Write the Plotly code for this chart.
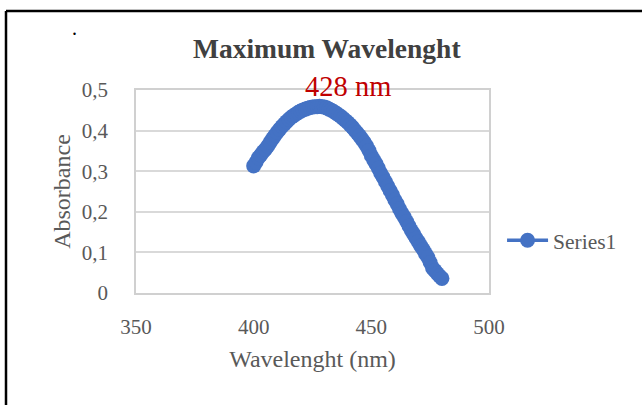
import plotly.graph_objects as go

wavelength = list(range(400, 481))
absorbance = [
    0.313, 0.322, 0.333, 0.340, 0.348, 0.354, 0.362, 0.371, 0.380, 0.388,
    0.396, 0.403, 0.410, 0.416, 0.422, 0.428, 0.433, 0.437, 0.441, 0.445,
    0.448, 0.451, 0.453, 0.455, 0.457, 0.458, 0.459, 0.459, 0.460, 0.459,
    0.458, 0.456, 0.453, 0.450, 0.447, 0.443, 0.439, 0.435, 0.430, 0.425,
    0.420, 0.414, 0.408, 0.401, 0.394, 0.387, 0.379, 0.371, 0.362, 0.351,
    0.338, 0.328, 0.318, 0.307, 0.295, 0.285, 0.274, 0.263, 0.252, 0.241,
    0.229, 0.219, 0.207, 0.196, 0.187, 0.176, 0.165, 0.154, 0.145, 0.135,
    0.126, 0.116, 0.107, 0.097, 0.088, 0.075, 0.062, 0.055, 0.048, 0.042,
    0.036,
]
x_ticks = [350, 400, 450, 500]
y_ticks = [0, 0.1, 0.2, 0.3, 0.4, 0.5]
series_name = "Series1"
peak_label = "428 nm"

FONT = "Liberation Serif"
BLUE = "#4472C4"
GREY = "#595959"

fig = go.Figure()
fig.add_trace(go.Scatter(
    x=wavelength, y=absorbance, name=series_name, mode="lines+markers",
    line=dict(color=BLUE, width=3.5),
    marker=dict(color=BLUE, size=15),
    showlegend=True,
))

fig.update_layout(
    width=642, height=405,
    margin=dict(l=136, r=153, t=90, b=112),
    paper_bgcolor="white", plot_bgcolor="white",
    separators=", ",
    font=dict(family=FONT, color=GREY, size=21),
    title=dict(text="<b>Maximum Wavelenght</b>", x=0.509, xref="container",
               xanchor="center", y=1 - 48 / 405, yref="container", yanchor="middle",
               font=dict(family=FONT, size=27.5, color="#404040")),
    xaxis=dict(range=[350, 500], tickvals=x_ticks, showgrid=False, zeroline=False,
               showline=True, linecolor="#D0D0D0", linewidth=1.5, mirror=True,
               ticks="", ticklabelstandoff=14,
               tickfont=dict(family=FONT, size=21, color=GREY),
               title=dict(text="Wavelenght (nm)", standoff=12,
                          font=dict(family=FONT, size=24, color=GREY))),
    yaxis=dict(range=[0, 0.5], tickvals=y_ticks, showgrid=True, gridcolor="#D9D9D9",
               gridwidth=1.5, zeroline=False, showline=True, linecolor="#D0D0D0",
               linewidth=1.5, mirror=True, ticks="", ticklabelstandoff=22,
               tickfont=dict(family=FONT, size=21, color=GREY),
               title=dict(text="Absorbance", standoff=4,
                          font=dict(family=FONT, size=24, color=GREY))),
    legend=dict(x=1.037, xanchor="left", y=0.26, yanchor="middle", itemwidth=41,
                font=dict(family=FONT, size=21.5, color=GREY), bgcolor="rgba(0,0,0,0)"),
    annotations=[
        dict(text=peak_label, x=(348 - 136) / 353, y=(293 - 87) / 203, xref="paper",
             yref="paper", showarrow=False, xanchor="center", yanchor="middle",
             font=dict(family=FONT, size=28.5, color="#C00000")),
        dict(text=".", x=(74 - 136) / 353, y=(293 - 28) / 203, xref="paper", yref="paper",
             showarrow=False, xanchor="center", yanchor="middle",
             font=dict(family=FONT, size=20, color="black")),
    ],
    shapes=[
        dict(type="line", xref="paper", yref="paper", x0=(6 - 136) / 353, x1=(6 - 136) / 353,
             y0=(293 - 11) / 203, y1=(293 - 420) / 203, line=dict(color="black", width=2.5)),
        dict(type="line", xref="paper", yref="paper", x0=(6 - 136) / 353, x1=(660 - 136) / 353,
             y0=(293 - 11) / 203, y1=(293 - 11) / 203, line=dict(color="black", width=2.5)),
    ],
)

fig.write_html("out.html")
